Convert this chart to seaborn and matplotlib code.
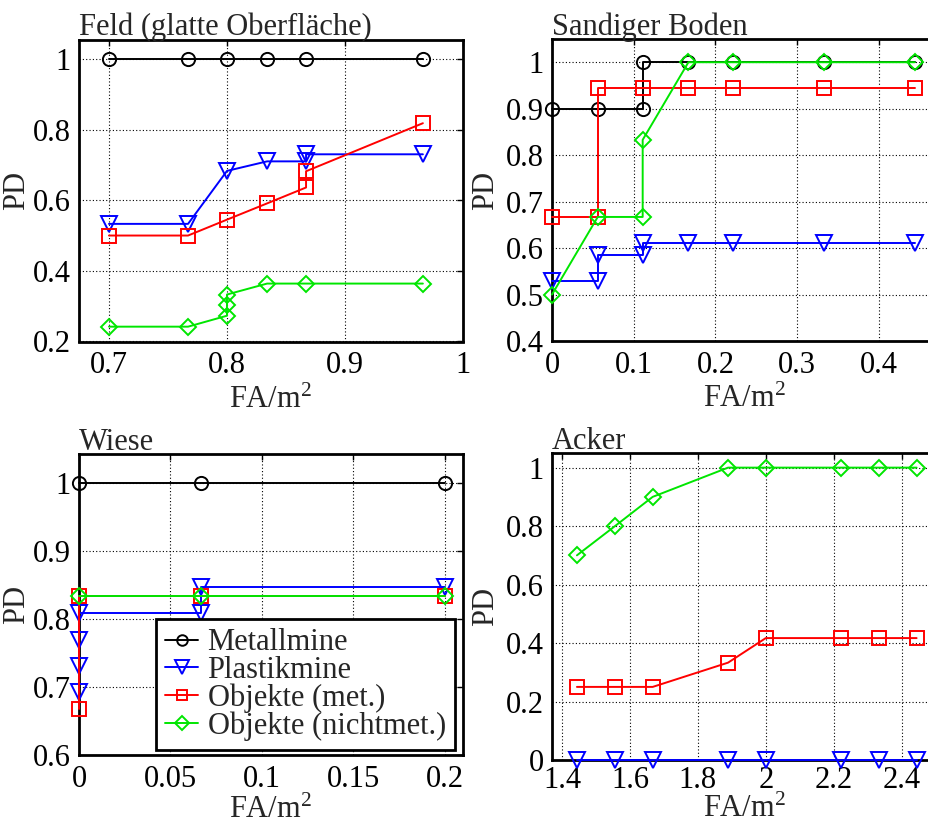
import matplotlib
matplotlib.use("Agg")
import matplotlib.pyplot as plt
from matplotlib.ticker import FuncFormatter
from matplotlib.lines import Line2D
import seaborn as sns

# ---- Feld (glatte Oberfläche) ----
feld_metall_x = [0.7, 0.767, 0.8, 0.834, 0.867, 0.966]
feld_metall_y = [1, 1, 1, 1, 1, 1]
feld_plastik_x = [0.7, 0.767, 0.8, 0.834, 0.867, 0.867, 0.966]
feld_plastik_y = [0.533, 0.533, 0.683, 0.71, 0.71, 0.73, 0.73]
feld_met_x = [0.7, 0.767, 0.8, 0.834, 0.867, 0.867, 0.966]
feld_met_y = [0.5, 0.5, 0.545, 0.591, 0.636, 0.682, 0.818]
feld_nichtmet_x = [0.7, 0.767, 0.8, 0.8, 0.8, 0.834, 0.867, 0.966]
feld_nichtmet_y = [0.242, 0.242, 0.273, 0.303, 0.333, 0.364, 0.364, 0.364]

# ---- Sandiger Boden ----
sand_metall_x = [0, 0.056, 0.111, 0.111, 0.167, 0.222, 0.333, 0.444]
sand_metall_y = [0.9, 0.9, 0.9, 1, 1, 1, 1, 1]
sand_plastik_x = [0, 0.056, 0.056, 0.111, 0.111, 0.167, 0.222, 0.333, 0.444]
sand_plastik_y = [0.53, 0.53, 0.586, 0.586, 0.611, 0.611, 0.611, 0.611, 0.611]
sand_met_x = [0, 0.056, 0.056, 0.111, 0.167, 0.222, 0.333, 0.444]
sand_met_y = [0.667, 0.667, 0.944, 0.944, 0.944, 0.944, 0.944, 0.944]
sand_nichtmet_x = [0, 0.056, 0.111, 0.111, 0.167, 0.222, 0.333, 0.444]
sand_nichtmet_y = [0.5, 0.667, 0.667, 0.833, 1, 1, 1, 1]

# ---- Wiese ----
wiese_metall_x = [0, 0.0667, 0.2]
wiese_metall_y = [1, 1, 1]
wiese_plastik_x = [0, 0, 0, 0, 0.0667, 0.0667, 0.2]
wiese_plastik_y = [0.692, 0.731, 0.769, 0.808, 0.808, 0.846, 0.846]
wiese_met_x = [0, 0, 0.0667, 0.2]
wiese_met_y = [0.667, 0.833, 0.833, 0.833]
wiese_nichtmet_x = [0, 0.0667, 0.2]
wiese_nichtmet_y = [0.833, 0.833, 0.833]

# ---- Acker ----
acker_x = [1.444, 1.556, 1.667, 1.889, 2.0, 2.222, 2.333, 2.444]
acker_plastik_y = [0, 0, 0, 0, 0, 0, 0, 0]
acker_met_y = [0.25, 0.25, 0.25, 0.333, 0.417, 0.417, 0.417, 0.417]
acker_nichtmet_y = [0.7, 0.8, 0.9, 1, 1, 1, 1, 1]

series_names = ["Metallmine", "Plastikmine", "Objekte (met.)", "Objekte (nichtmet.)"]
series_colors = ["#000000", "#0000ff", "#ff0000", "#00e600"]
series_markers = ["o", "v", "s", "D"]
series_msize = [9.5, 12, 9.5, 8.5]

FS = 22

sns.set_theme(style="white")
plt.rcParams["font.family"] = ["Liberation Serif", "DejaVu Serif"]
plt.rcParams["mathtext.fontset"] = "custom"
plt.rcParams["mathtext.rm"] = "Liberation Serif"
plt.rcParams["mathtext.it"] = "Liberation Serif:italic"

fig = plt.figure(figsize=(9.29, 8.25), dpi=100)
W, H = 929.0, 825.0


def add_axes(left, top, right, bottom):
    return fig.add_axes([left / W, 1 - bottom / H, (right - left) / W, (bottom - top) / H])


ax1 = add_axes(79, 39.5, 463, 341.5)
ax2 = add_axes(552, 39, 938, 341)
ax3 = add_axes(79, 454, 463, 755)
ax4 = add_axes(552, 453, 938, 760)


def draw(ax, idx, xs, ys):
    c = series_colors[idx]
    sns.lineplot(x=xs, y=ys, ax=ax, sort=False, estimator=None, color=c,
                 marker=series_markers[idx], markersize=series_msize[idx],
                 markerfacecolor="none", mec=c, mew=1.4, lw=1.4,
                 clip_on=False, legend=False, zorder=3 + idx)


draw(ax1, 0, feld_metall_x, feld_metall_y)
draw(ax1, 1, feld_plastik_x, feld_plastik_y)
draw(ax1, 2, feld_met_x, feld_met_y)
draw(ax1, 3, feld_nichtmet_x, feld_nichtmet_y)

draw(ax2, 0, sand_metall_x, sand_metall_y)
draw(ax2, 1, sand_plastik_x, sand_plastik_y)
draw(ax2, 2, sand_met_x, sand_met_y)
draw(ax2, 3, sand_nichtmet_x, sand_nichtmet_y)

draw(ax3, 0, wiese_metall_x, wiese_metall_y)
draw(ax3, 1, wiese_plastik_x, wiese_plastik_y)
draw(ax3, 2, wiese_met_x, wiese_met_y)
draw(ax3, 3, wiese_nichtmet_x, wiese_nichtmet_y)

draw(ax4, 1, acker_x, acker_plastik_y)
draw(ax4, 2, acker_x, acker_met_y)
draw(ax4, 3, acker_x, acker_nichtmet_y)

fmt = FuncFormatter(lambda v, p: "%g" % round(v, 4))

# axes, title, xlim, xticks, ylim, yticks, x tick pad, x-label top (px below axes), y-label x (axes frac)
panels = [
    (ax1, "Feld (glatte Oberfläche)", (0.6746, 1.0), [0.7, 0.8, 0.9, 1.0], (0.2, 1.055), [0.2, 0.4, 0.6, 0.8, 1.0], 7, 44, -0.125),
    (ax2, "Sandiger Boden", (0.0, 0.4725), [0, 0.1, 0.2, 0.3, 0.4], (0.4, 1.05), [0.4, 0.5, 0.6, 0.7, 0.8, 0.9, 1.0], 7, 44, -0.135),
    (ax3, "Wiese", (0.0, 0.21), [0, 0.05, 0.1, 0.15, 0.2], (0.6, 1.042), [0.6, 0.7, 0.8, 0.9, 1.0], 7, 41, -0.125),
    (ax4, "Acker", (1.3706, 2.507), [1.4, 1.6, 1.8, 2.0, 2.2, 2.4], (0.0, 1.05), [0, 0.2, 0.4, 0.6, 0.8, 1.0], 4, 35, -0.135),
]

for ax, title, xl, xt, yl, yt, tpad, xly, ylx in panels:
    ax.set_xlim(*xl)
    ax.set_ylim(*yl)
    ax.set_xticks(xt)
    ax.set_yticks(yt)
    ax.xaxis.set_major_formatter(fmt)
    ax.yaxis.set_major_formatter(fmt)
    ax.grid(True, linestyle=(0, (1, 2)), color="black", lw=0.8)
    ax.set_axisbelow(True)
    ax.tick_params(direction="in", top=True, right=True, length=4, width=1,
                   labelsize=FS, colors="black")
    ax.tick_params(axis="x", pad=tpad)
    ax.tick_params(axis="y", pad=6)
    for sp in ax.spines.values():
        sp.set_visible(True)
        sp.set_color("black")
        sp.set_linewidth(2)
    ax.set_xlabel("FA/m$^2$", fontsize=FS)
    h_px = ax.get_position().height * H
    ax.xaxis.set_label_coords(0.5, -xly / h_px)
    ax.set_ylabel("PD", fontsize=FS)
    ax.yaxis.set_label_coords(ylx, 0.5)
    ax.set_title(title, loc="left", fontsize=FS, pad=3)

handles = [Line2D([], [], color=series_colors[i], marker=series_markers[i],
                  markersize=series_msize[i] * 0.8, markerfacecolor="none",
                  mec=series_colors[i], mew=1.4, lw=1.4) for i in range(4)]
leg = ax3.legend(handles=handles, labels=series_names, loc="lower right",
                 bbox_to_anchor=(0.979, 0.0166), borderaxespad=0, fontsize=FS,
                 handlelength=1.1, handletextpad=0.3, labelspacing=-0.05,
                 borderpad=0.3, frameon=True, fancybox=False, framealpha=1)
leg.get_frame().set_edgecolor("black")
leg.get_frame().set_linewidth(2)
leg.set_zorder(20)

fig.savefig("out.png", dpi=100)
